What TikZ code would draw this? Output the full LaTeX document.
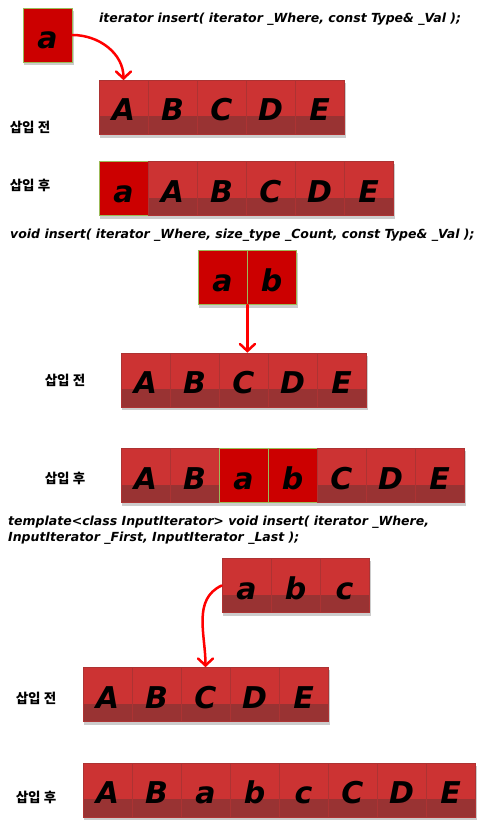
\documentclass[tikz,border=0pt]{standalone}
\usepackage{fontspec}
\usetikzlibrary{arrows.meta,backgrounds}
\newfontfamily\lettf{DejaVu Sans}
\newfontfamily\codef{DejaVu Sans}
\newfontfamily\korf{Noto Sans CJK KR}
\definecolor{celltop}{HTML}{CC3333}
\definecolor{cellbot}{HTML}{993333}
\definecolor{darkcell}{HTML}{CC0000}
\definecolor{greenedge}{HTML}{9BBB59}
\definecolor{arrowred}{HTML}{FF0000}
\tikzset{
  cellbase/.style={rectangle, minimum width=49pt, minimum height=54pt, inner sep=0pt,
    text height=27pt, text depth=0pt, font=\lettf\bfseries\itshape\fontsize{30}{32}\selectfont},
  nc/.style={cellbase, fill=celltop, draw=cellbot!60!celltop, line width=0.6pt,
    path picture={\fill[cellbot] (path picture bounding box.south west) rectangle ([yshift=18pt]path picture bounding box.south east);}},
  dc/.style={cellbase, fill=darkcell, draw=greenedge, line width=0.8pt},
  codetxt/.style={anchor=west, inner sep=0pt, font=\codef\bfseries\itshape\fontsize{12.5}{15}\selectfont},
  lab/.style={inner sep=0pt, font=\korf\bfseries\fontsize{13.5}{15}\selectfont},
  redarrow/.style={draw=arrowred, line width=2.5pt, line cap=round,
    -{Straight Barb[length=7pt,width=15pt,line cap=round]}},
  shadowbox/.style={fill=black, opacity=0.2}
}
% #1 prefix, #2 left x, #3 center y, #4 number of cells, #5 list letter/style
\newcommand\cellrow[5]{%
  \foreach \l/\s [count=\i] in {#5} {
    \node[\s] (#1-\i) at ({#2+(\i-0.5)*49}, #3) {\l};
  }
  \begin{scope}[on background layer]
    \fill[shadowbox] ([xshift=1pt,yshift=-3pt]#1-1.north west) rectangle ([xshift=2pt,yshift=-3pt]#1-#4.south east);
  \end{scope}
}
\begin{document}
\begin{tikzpicture}[x=1pt,y=-1pt]
\begin{scope}[on background layer]
\fill[white] (0,0) rectangle (492,829);
\end{scope}
\useasboundingbox (0,0) rectangle (492,829);

% ---- Section 1
\node[codetxt] (t1) at (99,19) {iterator insert( iterator \_Where, const Type\& \_Val );};
\cellrow{s1x}{23}{35}{1}{a/dc}
\cellrow{s1r1}{99}{107.5}{5}{A/nc,B/nc,C/nc,D/nc,E/nc}
\node[lab] (l11) at (30,127) {삽입 전};
\cellrow{s1r2}{99}{188.5}{6}{a/dc,A/nc,B/nc,C/nc,D/nc,E/nc}
\node[lab] (l12) at (30,185) {삽입 후};
\draw[redarrow] (s1x-1.east) to[out=0,in=90] (s1r1-1.north);

% ---- Section 2
\node[codetxt] (t2) at (10,235) {void insert( iterator \_Where, size\_type \_Count, const Type\& \_Val );};
\cellrow{s2x}{198}{277.5}{2}{a/dc,b/dc}
\cellrow{s2r1}{121}{380}{5}{A/nc,B/nc,C/nc,D/nc,E/nc}
\node[lab] (l21) at (65,380) {삽입 전};
\cellrow{s2r2}{121}{475.5}{7}{A/nc,B/nc,a/dc,b/dc,C/nc,D/nc,E/nc}
\node[lab] (l22) at (65,478) {삽입 후};
\draw[redarrow] (s2x-1.south east) -- (s2x-1.south east |- s2r1-3.north);

% ---- Section 3
\node[codetxt] (t3a) at (8,522) {template<class InputIterator> void insert( iterator \_Where,};
\node[codetxt] (t3b) at (8,538) {InputIterator \_First, InputIterator \_Last );};
\cellrow{s3x}{222}{585.5}{3}{a/nc,b/nc,c/nc}
\cellrow{s3r1}{83}{694.5}{5}{A/nc,B/nc,C/nc,D/nc,E/nc}
\node[lab] (l31) at (36,698) {삽입 전};
\cellrow{s3r2}{83}{790}{8}{A/nc,B/nc,a/nc,b/nc,c/nc,C/nc,D/nc,E/nc}
\node[lab] (l32) at (36,797) {삽입 후};
\draw[redarrow] (s3x-1.west) to[out=205,in=90] (s3r1-3.north);
\end{tikzpicture}
\end{document}
